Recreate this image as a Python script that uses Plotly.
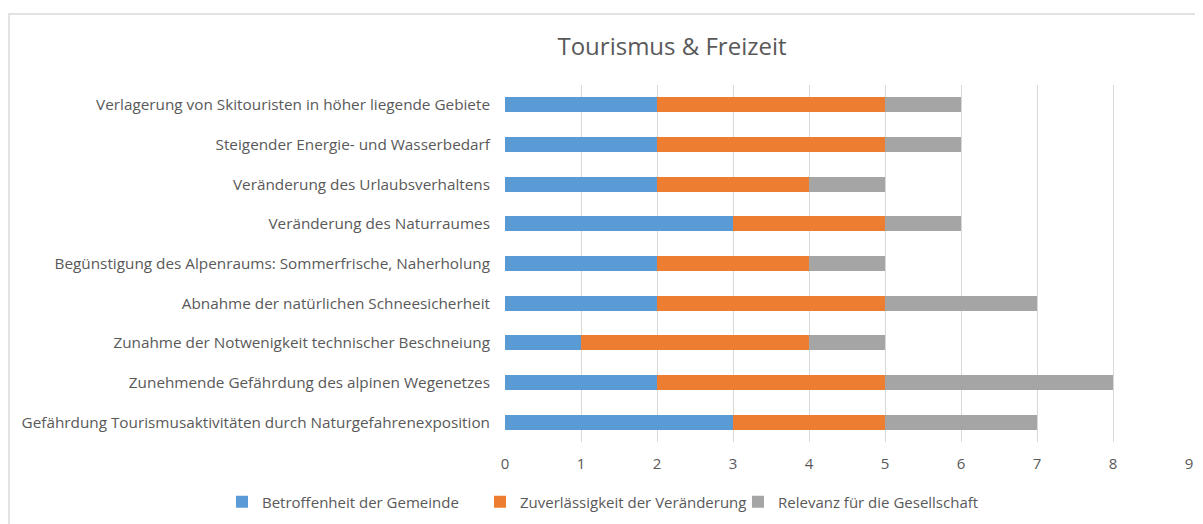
import plotly.graph_objects as go

categories = [
    "Gefährdung Tourismusaktivitäten durch Naturgefahrenexposition",
    "Zunehmende Gefährdung des alpinen Wegenetzes",
    "Zunahme der Notwenigkeit technischer Beschneiung",
    "Abnahme der natürlichen Schneesicherheit",
    "Begünstigung des Alpenraums: Sommerfrische, Naherholung",
    "Veränderung des Naturraumes",
    "Veränderung des Urlaubsverhaltens",
    "Steigender Energie- und Wasserbedarf",
    "Verlagerung von Skitouristen in höher liegende Gebiete",
]
betroffenheit = [3, 2, 1, 2, 2, 3, 2, 2, 2]
zuverlaessigkeit = [2, 3, 3, 3, 2, 2, 2, 3, 3]
relevanz = [2, 3, 1, 2, 1, 1, 1, 1, 1]
series_names = ["Betroffenheit der Gemeinde", "Zuverlässigkeit der Veränderung", "Relevanz für die Gesellschaft"]
colors = ["#5B9BD5", "#ED7D31", "#A5A5A5"]
x_ticks = list(range(0, 10))

fig = go.Figure()
for name, vals, col in zip(series_names, [betroffenheit, zuverlaessigkeit, relevanz], colors):
    fig.add_trace(go.Bar(y=categories, x=vals, name=name, orientation="h",
                         marker=dict(color=col, line=dict(width=0))))

# page body has an 8px margin; figure is sized so it ends at the window edge
OFF = 8
W, H = 1203 - OFF, 524 - OFF
L, R, T, B = 505 - OFF, 1203 - 1189, 85 - OFF, 524 - 442
PW, PH = W - L - R, H - T - B

font_family = "Open Sans, Lato, sans-serif"
fig.update_layout(
    barmode="stack",
    bargap=0.62,
    width=W, height=H,
    margin=dict(l=L, r=R, t=T, b=B, autoexpand=False),
    paper_bgcolor="white", plot_bgcolor="white",
    title=dict(text="Tourismus & Freizeit", x=(672 - OFF) / W, xanchor="center",
               y=1 - (47 - OFF) / H, yanchor="middle",
               font=dict(family=font_family, size=24, color="#595959")),
    font=dict(family=font_family, color="#595959", size=15),
    xaxis=dict(range=[0, 9], tickvals=x_ticks, showgrid=True, gridcolor="#D9D9D9",
               gridwidth=1, zeroline=False, showline=False,
               tickfont=dict(size=15, color="#595959"), ticks="", ticklabelstandoff=11),
    yaxis=dict(showgrid=False, zeroline=False, showline=False, ticks="",
               tickfont=dict(size=15.3, color="#595959"), ticklabelstandoff=14),
    legend=dict(orientation="h", x=(214 - L) / PW, xanchor="left",
                y=-(502 - 442) / PH, yanchor="middle",
                font=dict(size=15, color="#595959"), traceorder="normal",
                itemwidth=30, entrywidth=213, entrywidthmode="pixels"),
    shapes=[dict(type="rect", xref="paper", yref="paper",
                 x0=(1 - L) / PW, x1=(1215 - 505) / PW,
                 y0=-(580 - 442) / PH, y1=(442 - 14) / PH,
                 line=dict(color="#D9D9D9", width=1.5), fillcolor="rgba(0,0,0,0)",
                 layer="below")],
)
fig.write_html("out.html")
